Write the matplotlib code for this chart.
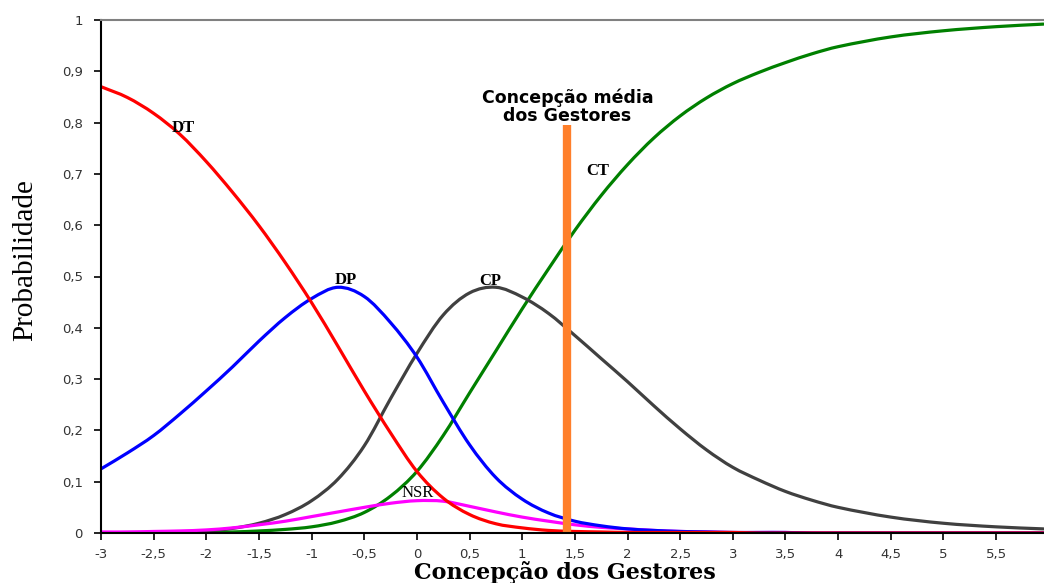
import matplotlib
matplotlib.use("Agg")
import matplotlib.pyplot as plt
from matplotlib.path import Path
from matplotlib.patches import PathPatch
from matplotlib.ticker import FuncFormatter

# values
x = [-3, -2.75, -2.5, -2.25, -2, -1.75, -1.5, -1.25, -1, -0.75, -0.5, -0.25,
     0, 0.25, 0.5, 0.75, 1, 1.25, 1.5, 1.75, 2, 2.25, 2.5, 2.75, 3,
     3.25, 3.5, 3.75, 4, 4.5, 5, 5.5, 5.95]

dt = [0.870, 0.849, 0.818, 0.777, 0.724, 0.664, 0.599, 0.527, 0.449, 0.364, 0.277, 0.195,
      0.120, 0.068, 0.036, 0.018, 0.010, 0.005, 0.003, 0.002, 0.001, 0.001, 0.001, 0.001, 0.001,
      0.0, 0.0, 0.0, 0.0, 0.0, 0.0, 0.0, 0.0]
dp = [0.125, 0.156, 0.190, 0.232, 0.277, 0.324, 0.374, 0.420, 0.457, 0.479, 0.461, 0.410,
      0.343, 0.255, 0.172, 0.108, 0.066, 0.039, 0.023, 0.014, 0.008, 0.005, 0.003, 0.002, 0.001,
      0.001, 0.001, 0.0, 0.0, 0.0, 0.0, 0.0, 0.0]
nsr = [0.002, 0.002, 0.003, 0.004, 0.006, 0.010, 0.016, 0.023, 0.032, 0.041, 0.050, 0.058,
       0.063, 0.062, 0.052, 0.041, 0.031, 0.023, 0.016, 0.011, 0.008, 0.005, 0.003, 0.002, 0.001,
       0.001, 0.001, 0.0, 0.0, 0.0, 0.0, 0.0, 0.0]
cp = [0.0, 0.001, 0.001, 0.002, 0.004, 0.009, 0.019, 0.036, 0.063, 0.105, 0.170, 0.262,
      0.350, 0.425, 0.468, 0.479, 0.460, 0.428, 0.385, 0.340, 0.295, 0.248, 0.203, 0.162, 0.128,
      0.103, 0.081, 0.064, 0.050, 0.031, 0.019, 0.012, 0.008]
ct = [0.0, 0.0, 0.0, 0.0, 0.001, 0.002, 0.004, 0.007, 0.012, 0.022, 0.040, 0.072,
      0.120, 0.190, 0.273, 0.355, 0.437, 0.515, 0.590, 0.658, 0.718, 0.770, 0.813, 0.848, 0.876,
      0.898, 0.917, 0.934, 0.948, 0.967, 0.979, 0.987, 0.992]

media_x = 1.43
media_top = 0.795

xticks = [-3, -2.5, -2, -1.5, -1, -0.5, 0, 0.5, 1, 1.5, 2, 2.5, 3, 3.5, 4, 4.5, 5, 5.5]
yticks = [0, 0.1, 0.2, 0.3, 0.4, 0.5, 0.6, 0.7, 0.8, 0.9, 1]


def comma(v, pos):
    return ('%g' % v).replace('.', ',')


def smooth_line(ax, xs, ys, color):
    # smoothed line like the spreadsheet original: cubic Hermite segments as Bezier curves
    n = len(xs)
    slopes = []
    for i in range(n):
        i0 = max(i - 1, 0)
        i1 = min(i + 1, n - 1)
        slopes.append((ys[i1] - ys[i0]) / (xs[i1] - xs[i0]))
    verts = [(xs[0], ys[0])]
    codes = [Path.MOVETO]
    for i in range(n - 1):
        h = xs[i + 1] - xs[i]
        c1 = (xs[i] + h / 3, ys[i] + slopes[i] * h / 3)
        c2 = (xs[i + 1] - h / 3, ys[i + 1] - slopes[i + 1] * h / 3)
        verts += [c1, c2, (xs[i + 1], ys[i + 1])]
        codes += [Path.CURVE4] * 3
    ax.add_patch(PathPatch(Path(verts, codes), fill=False, edgecolor=color, lw=2.3,
                           capstyle='round', joinstyle='round'))


fig = plt.figure(figsize=(10.44, 5.83), dpi=100)
ax = fig.add_axes([101 / 1044, 50 / 583, 943 / 1044, 513 / 583])

smooth_line(ax, x, ct, '#008000')
smooth_line(ax, x, cp, '#404040')
smooth_line(ax, x, nsr, '#FF00FF')
smooth_line(ax, x, dp, '#0000FF')
smooth_line(ax, x, dt, '#FF0000')
ax.plot([media_x, media_x], [0, media_top], color='#FF7F2A', lw=6, solid_capstyle='butt')

ax.set_xlim(-3, 5.955)
ax.set_ylim(0, 1)
ax.set_xticks(xticks)
ax.set_yticks(yticks)
ax.xaxis.set_major_formatter(FuncFormatter(comma))
ax.yaxis.set_major_formatter(FuncFormatter(comma))
ax.tick_params(direction='out', length=5, width=1.2, colors='black', labelsize=9.5,
               labelcolor='#333333')
ax.tick_params(axis='x', pad=6)
ax.tick_params(axis='y', pad=8)

ax.spines['right'].set_visible(False)
ax.spines['top'].set_color('#808080')
ax.spines['top'].set_linewidth(1.5)
ax.spines['left'].set_linewidth(1.5)
ax.spines['bottom'].set_linewidth(1.5)

serif = 'Liberation Serif'
ax.text(-2.22, 0.79, 'DT', fontfamily=serif, fontweight='bold', fontsize=12, ha='center', va='center')
ax.text(-0.68, 0.493, 'DP', fontfamily=serif, fontweight='bold', fontsize=12, ha='center', va='center')
ax.text(0.70, 0.491, 'CP', fontfamily=serif, fontweight='bold', fontsize=12, ha='center', va='center')
ax.text(1.72, 0.705, 'CT', fontfamily=serif, fontweight='bold', fontsize=12, ha='center', va='center')
ax.text(0.01, 0.077, 'NSR', fontfamily=serif, fontsize=12, ha='center', va='center')
ax.text(media_x, 0.831, 'Concepção média\ndos Gestores', fontfamily='DejaVu Sans',
        fontweight='bold', fontsize=12.5, ha='center', va='center', linespacing=1.0)

fig.text(0.024, 0.554, 'Probabilidade', fontfamily=serif, fontsize=21, rotation=90,
         ha='center', va='center')
fig.text(565 / 1044, 0.018, 'Concepção dos Gestores', fontfamily='DejaVu Serif',
         fontweight='bold', fontsize=16, ha='center', va='center')

fig.savefig('out.png', dpi=100)
